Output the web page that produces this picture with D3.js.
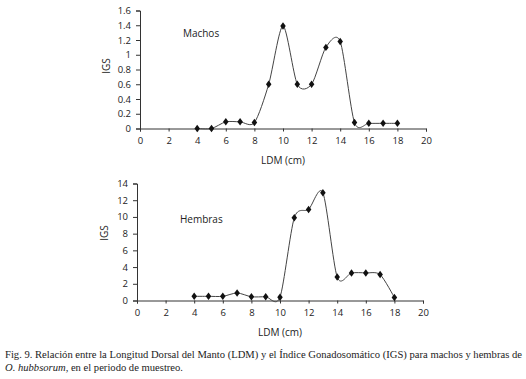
<!DOCTYPE html>
<html>
<head>
<meta charset="utf-8">
<script src="https://cdn.jsdelivr.net/npm/d3@7"></script>
<style>
  body { margin: 0; background: #fff; }
  svg text { font-family: "Open Sans", "Noto Sans", sans-serif; fill: #222; }
  .caption { position: absolute; left: 5px; top: 349px; width: 520px;
    font-family: "Liberation Serif", "DejaVu Serif", serif; font-size: 10.6px; line-height: 12.5px; color: #222; }
</style>
</head>
<body>
<svg id="chart" width="526" height="379" style="position:absolute;left:0;top:0"></svg>
<div class="caption">Fig. 9. Relación entre la Longitud Dorsal del Manto (LDM) y el Índice Gonadosomático (IGS) para machos y hembras de<br><i>O. hubbsorum</i>, en el periodo de muestreo.</div>
<script>
var ldm = [4, 5, 6, 7, 8, 9, 10, 11, 12, 13, 14, 15, 16, 17, 18];
var machos = [0, 0, 0.09, 0.09, 0.08, 0.6, 1.39, 0.6, 0.6, 1.1, 1.18, 0.08, 0.07, 0.07, 0.07];
var hembras = [0.5, 0.5, 0.5, 0.9, 0.45, 0.45, 0.4, 9.9, 10.9, 12.9, 2.8, 3.3, 3.3, 3.1, 0.35];
var xTicks = [0, 2, 4, 6, 8, 10, 12, 14, 16, 18, 20];
var machosTicks = [0, 0.2, 0.4, 0.6, 0.8, 1, 1.2, 1.4, 1.6];
var hembrasTicks = [0, 2, 4, 6, 8, 10, 12, 14];

var svg = d3.select("#chart");

function panel(opts) {
  var x = d3.scaleLinear().domain([0, 20]).range([opts.left, opts.right]);
  var y = d3.scaleLinear().domain([0, opts.ymax]).range([opts.bottom, opts.top]);
  var g = svg.append("g");

  var xa = g.append("g").attr("transform", "translate(0," + opts.bottom + ")")
    .call(d3.axisBottom(x).tickValues(xTicks).tickSize(3).tickPadding(6).tickFormat(d3.format("d")));
  var ya = g.append("g").attr("transform", "translate(" + opts.left + ",0)")
    .call(d3.axisLeft(y).tickValues(opts.ticks).tickSize(4).tickPadding(5).tickFormat(d3.format("~g")));
  [xa, ya].forEach(function(a) {
    a.select(".domain").attr("stroke", "#333");
    a.selectAll(".tick line").attr("stroke", "#333");
    a.selectAll("text").attr("font-size", 9.5).attr("fill", "#222");
  });

  g.append("text").attr("x", (opts.left + opts.right) / 2).attr("y", opts.bottom + 35)
    .attr("text-anchor", "middle").attr("font-size", 10).text("LDM (cm)");
  g.append("text").attr("transform", "translate(" + opts.yLabelX + "," + opts.yLabelY + ") rotate(-90)")
    .attr("text-anchor", "middle").attr("font-size", 10).text("IGS");
  g.append("text").attr("x", x(opts.labelX)).attr("y", y(opts.labelY))
    .attr("font-size", 10).text(opts.label);

  var pts = ldm.map(function(d, i) { return [d, opts.values[i]]; });
  var line = d3.line().x(function(d) { return x(d[0]); }).y(function(d) { return y(d[1]); })
    .curve(d3.curveCardinal.tension(0.2));
  g.append("path").datum(pts).attr("d", line).attr("fill", "none")
    .attr("stroke", "#444").attr("stroke-width", 1);

  g.selectAll(".pt").data(pts).enter().append("path")
    .attr("d", d3.symbol().type(d3.symbolDiamond).size(20))
    .attr("transform", function(d) { return "translate(" + x(d[0]) + "," + y(d[1]) + ") scale(1.15,0.9)"; })
    .attr("fill", "#111");
}

panel({ left: 140, right: 426, top: 10.5, bottom: 128.5, ymax: 1.6, ticks: machosTicks,
  values: machos, label: "Machos", labelX: 3, labelY: 1.24, yLabelX: 110, yLabelY: 66 });
panel({ left: 137, right: 423, top: 183.5, bottom: 300.5, ymax: 14, ticks: hembrasTicks,
  values: hembras, label: "Hembras", labelX: 3, labelY: 9.3, yLabelX: 108, yLabelY: 233 });
</script>
</body>
</html>
